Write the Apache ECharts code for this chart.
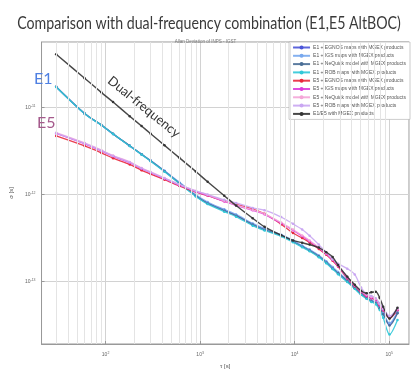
<!DOCTYPE html>
<html>
<head>
<meta charset="utf-8">
<script src="https://cdn.jsdelivr.net/npm/echarts@6/dist/echarts.min.js"></script>
<style>
  html, body { margin: 0; padding: 0; background: #fff; }
  #chart { width: 411px; height: 374px; }
</style>
</head>
<body>
<div id="chart"></div>
<script>
// Averaging times tau [s]
const tau = [30, 60, 90, 120, 180, 240, 300, 420, 600, 900, 1200, 1800, 2400, 3600, 4800, 7200,
  9600, 12000, 14400, 18000, 21600, 25200, 28800, 36000, 43200, 50400, 57600, 64800, 72000,
  79200, 86400, 100800, 122400];

// Allan deviation sigma(tau) [s]
const e1Egnos = [17.4e-12, 8.55e-12, 6.32e-12, 4.98e-12, 3.63e-12, 2.90e-12, 2.45e-12, 1.86e-12, 1.37e-12,
  0.975e-12, 0.80e-12, 0.66e-12, 0.575e-12, 0.455e-12, 0.398e-12, 0.340e-12, 0.290e-12, 0.254e-12,
  0.229e-12, 0.196e-12, 0.167e-12, 0.143e-12, 0.125e-12, 0.101e-12, 0.0843e-12, 0.0720e-12, 0.0648e-12,
  0.0598e-12, 0.0568e-12, 0.0498e-12, 0.0425e-12, 0.0318e-12, 0.0437e-12];
const e1Igs = [17.3e-12, 8.50e-12, 6.30e-12, 4.96e-12, 3.62e-12, 2.91e-12, 2.46e-12, 1.88e-12, 1.39e-12,
  0.99e-12, 0.82e-12, 0.675e-12, 0.59e-12, 0.465e-12, 0.405e-12, 0.345e-12, 0.296e-12, 0.258e-12,
  0.232e-12, 0.199e-12, 0.170e-12, 0.146e-12, 0.128e-12, 0.104e-12, 0.0860e-12, 0.0735e-12, 0.0660e-12,
  0.0610e-12, 0.0575e-12, 0.0505e-12, 0.0430e-12, 0.0330e-12, 0.0445e-12];
const e1NeQuick = [17.4e-12, 8.56e-12, 6.33e-12, 4.99e-12, 3.64e-12, 2.90e-12, 2.44e-12, 1.85e-12, 1.36e-12,
  0.965e-12, 0.79e-12, 0.650e-12, 0.570e-12, 0.450e-12, 0.392e-12, 0.336e-12, 0.287e-12, 0.251e-12,
  0.226e-12, 0.194e-12, 0.165e-12, 0.141e-12, 0.124e-12, 0.100e-12, 0.0835e-12, 0.0712e-12, 0.0640e-12,
  0.0590e-12, 0.0560e-12, 0.0490e-12, 0.0420e-12, 0.0310e-12, 0.0430e-12];
const e1Rob = [17.3e-12, 8.52e-12, 6.30e-12, 4.97e-12, 3.62e-12, 2.88e-12, 2.42e-12, 1.83e-12, 1.34e-12,
  0.95e-12, 0.775e-12, 0.635e-12, 0.555e-12, 0.438e-12, 0.385e-12, 0.330e-12, 0.282e-12, 0.247e-12,
  0.222e-12, 0.190e-12, 0.162e-12, 0.139e-12, 0.121e-12, 0.098e-12, 0.0820e-12, 0.0700e-12, 0.0630e-12,
  0.0580e-12, 0.0545e-12, 0.0470e-12, 0.0380e-12, 0.0245e-12, 0.0360e-12];
const e5Egnos = [4.72e-12, 3.62e-12, 3.02e-12, 2.62e-12, 2.22e-12, 1.90e-12, 1.72e-12, 1.48e-12, 1.26e-12,
  1.07e-12, 0.97e-12, 0.84e-12, 0.77e-12, 0.68e-12, 0.60e-12, 0.455e-12, 0.360e-12, 0.315e-12,
  0.280e-12, 0.236e-12, 0.202e-12, 0.173e-12, 0.148e-12, 0.108e-12, 0.0880e-12, 0.0750e-12, 0.0675e-12,
  0.0640e-12, 0.0610e-12, 0.0530e-12, 0.0465e-12, 0.0375e-12, 0.0465e-12];
const e5Igs = [5.04e-12, 3.83e-12, 3.18e-12, 2.75e-12, 2.32e-12, 1.98e-12, 1.78e-12, 1.52e-12, 1.28e-12,
  1.08e-12, 0.974e-12, 0.832e-12, 0.749e-12, 0.657e-12, 0.591e-12, 0.466e-12, 0.388e-12, 0.331e-12,
  0.290e-12, 0.242e-12, 0.206e-12, 0.176e-12, 0.150e-12, 0.110e-12, 0.0888e-12, 0.0759e-12, 0.0683e-12,
  0.0648e-12, 0.0615e-12, 0.0539e-12, 0.0472e-12, 0.0383e-12, 0.0472e-12];
const e5NeQuick = [5.15e-12, 3.92e-12, 3.25e-12, 2.81e-12, 2.37e-12, 2.02e-12, 1.82e-12, 1.55e-12, 1.31e-12,
  1.10e-12, 0.99e-12, 0.845e-12, 0.760e-12, 0.665e-12, 0.598e-12, 0.475e-12, 0.395e-12, 0.338e-12,
  0.296e-12, 0.247e-12, 0.211e-12, 0.180e-12, 0.154e-12, 0.113e-12, 0.0910e-12, 0.0775e-12, 0.0700e-12,
  0.0660e-12, 0.0625e-12, 0.0550e-12, 0.0480e-12, 0.0390e-12, 0.0480e-12];
const e5Rob = [5.10e-12, 3.88e-12, 3.22e-12, 2.78e-12, 2.35e-12, 2.00e-12, 1.80e-12, 1.54e-12, 1.30e-12,
  1.10e-12, 1.00e-12, 0.87e-12, 0.80e-12, 0.70e-12, 0.66e-12, 0.55e-12, 0.46e-12, 0.395e-12,
  0.335e-12, 0.265e-12, 0.215e-12, 0.180e-12, 0.160e-12, 0.140e-12, 0.120e-12, 0.085e-12, 0.0720e-12,
  0.0680e-12, 0.0640e-12, 0.0560e-12, 0.0490e-12, 0.0400e-12, 0.0490e-12];
const dualFreq = [41.1e-12, 21.8e-12, 15.0e-12, 11.6e-12, 7.97e-12, 6.15e-12, 5.01e-12, 3.68e-12, 2.66e-12,
  1.84e-12, 1.40e-12, 0.969e-12, 0.747e-12, 0.532e-12, 0.425e-12, 0.340e-12, 0.296e-12, 0.278e-12,
  0.265e-12, 0.245e-12, 0.217e-12, 0.191e-12, 0.154e-12, 0.113e-12, 0.0912e-12, 0.0779e-12, 0.0729e-12,
  0.0748e-12, 0.0759e-12, 0.0648e-12, 0.0511e-12, 0.0373e-12, 0.0498e-12];

const seriesNames = [
  'E1 + EGNOS maps with MGEX products',
  'E1 + IGS maps with MGEX products',
  'E1 + NeQuick model with MGEX products',
  'E1 + ROB maps with MGEX products',
  'E5 + EGNOS maps with MGEX products',
  'E5 + IGS maps with MGEX products',
  'E5 + NeQuick model with MGEX products',
  'E5 + ROB maps with MGEX products',
  'E1/E5 with MGEX products'
];
const seriesValues = [e1Egnos, e1Igs, e1NeQuick, e1Rob, e5Egnos, e5Igs, e5NeQuick, e5Rob, dualFreq];
const seriesColors = ['#4b55d8', '#78a8ee', '#4a6e96', '#30c8d8', '#e8283c', '#dc3cdc', '#f4a6d8', '#c9a6f2', '#333333'];

const xMin = 21, xMax = 162000;
const yMin = 1.9e-14, yMax = 5.7e-11;

// Log-scale minor grid positions (2..9 within every decade)
function minorValues(lo, hi) {
  const out = [];
  for (let e = Math.floor(Math.log10(lo)); e <= Math.ceil(Math.log10(hi)); e++) {
    for (let m = 2; m <= 9; m++) {
      const v = m * Math.pow(10, e);
      if (v > lo && v < hi) out.push(v);
    }
  }
  return out;
}
const xMinor = minorValues(xMin, xMax);
const yMinor = minorValues(yMin, yMax);

function powLabel(v) {
  const e = Math.round(Math.log10(v));
  return '{b|10}{s|' + e + '}';
}
const powRich = {
  b: { fontSize: 5, color: '#666', fontFamily: 'Liberation Sans' },
  s: { fontSize: 3.5, color: '#666', fontFamily: 'Liberation Sans', padding: [0, 0, 3, 0] }
};

const chart = echarts.init(document.getElementById('chart'), null, { renderer: 'canvas' });

const series = seriesValues.map((vals, i) => ({
  name: seriesNames[i],
  type: 'line',
  data: tau.map((t, k) => [t, vals[k]]),
  symbol: 'circle',
  symbolSize: 2.5,
  showSymbol: true,
  smooth: 0.3,
  lineStyle: { width: i === 8 ? 1.4 : 1.3, color: seriesColors[i], opacity: 0.9 },
  itemStyle: { color: seriesColors[i] },
  z: i === 8 ? 4 : 3
}));

// Minor log grid drawn beneath the curves
series.push({
  name: 'grid-minor',
  type: 'line',
  data: [],
  silent: true,
  z: 1,
  markLine: {
    silent: true,
    symbol: 'none',
    label: { show: false },
    animation: false,
    lineStyle: { color: '#e4e4e4', width: 1, type: 'solid' },
    data: xMinor.map(v => ({ xAxis: v })).concat(yMinor.map(v => ({ yAxis: v })))
  }
});

chart.setOption({
  animation: false,
  backgroundColor: '#fff',
  title: {
    text: 'Allan Deviation of INPS - IGST',
    left: 'center', top: 34,
    textStyle: { fontFamily: 'Liberation Sans', fontSize: 4.5, fontWeight: 'normal', color: '#777' }
  },
  legend: {
    data: seriesNames,
    orient: 'vertical',
    right: 1, top: 42,
    width: 114,
    padding: [3, 4, 3, 3],
    itemGap: 3.3,
    itemWidth: 17,
    itemHeight: 5,
    backgroundColor: '#fff',
    borderColor: '#aaa',
    borderWidth: 0.6,
    textStyle: { fontSize: 5, color: '#555', fontFamily: 'Liberation Sans', padding: [0, 0, 0, -2] }
  },
  grid: { left: 34, top: 42, right: 2, bottom: 28, show: true, borderColor: '#999', borderWidth: 1 },
  xAxis: {
    type: 'log', logBase: 10, min: xMin, max: xMax,
    name: 'τ [s]', nameLocation: 'middle', nameGap: 19,
    nameTextStyle: { fontSize: 6, color: '#555', fontFamily: 'Liberation Sans', padding: [0, 0, 0, 0] },
    axisLine: { show: true, lineStyle: { color: '#999', width: 1 } },
    axisTick: { show: true, inside: true, length: 3, lineStyle: { color: '#999' } },
    axisLabel: { formatter: powLabel, rich: powRich, margin: 7, showMinLabel: false, showMaxLabel: false },
    splitLine: { show: true, lineStyle: { color: '#d2d2d2', width: 1 } }
  },
  yAxis: {
    type: 'log', logBase: 10, min: yMin, max: yMax,
    name: 'σ [s]', nameLocation: 'middle', nameGap: 18, nameRotate: 90,
    nameTextStyle: { fontSize: 6, color: '#555', fontFamily: 'Liberation Sans' },
    axisLine: { show: true, lineStyle: { color: '#999', width: 1 } },
    axisTick: { show: true, inside: true, length: 3, lineStyle: { color: '#999' } },
    axisLabel: { formatter: powLabel, rich: powRich, margin: 6, showMinLabel: false, showMaxLabel: false },
    splitLine: { show: true, lineStyle: { color: '#d2d2d2', width: 1 } }
  },
  graphic: [
    { type: 'text', x: 209, y: 24, scaleX: 0.86, z: 10,
      style: { text: 'Comparison with dual-frequency combination (E1,E5 AltBOC)', fontSize: 16.5,
               fontFamily: 'Lato', fill: '#3a3a3a', align: 'center', verticalAlign: 'middle' } },
    { type: 'text', left: 34, top: 71, z: 10,
      style: { text: 'E1', fontSize: 16, fontFamily: 'Lato', fill: '#4f80e2' } },
    { type: 'text', left: 37, top: 115, z: 10,
      style: { text: 'E5', fontSize: 16, fontFamily: 'Lato', fill: '#a55a8c' } },
    { type: 'text', x: 144, y: 107, rotation: -39 * Math.PI / 180, z: 10,
      style: { text: 'Dual-frequency', fontSize: 13, fontFamily: 'Lato', fill: '#333',
               align: 'center', verticalAlign: 'middle' } }
  ],
  series: series
});
</script>
</body>
</html>
